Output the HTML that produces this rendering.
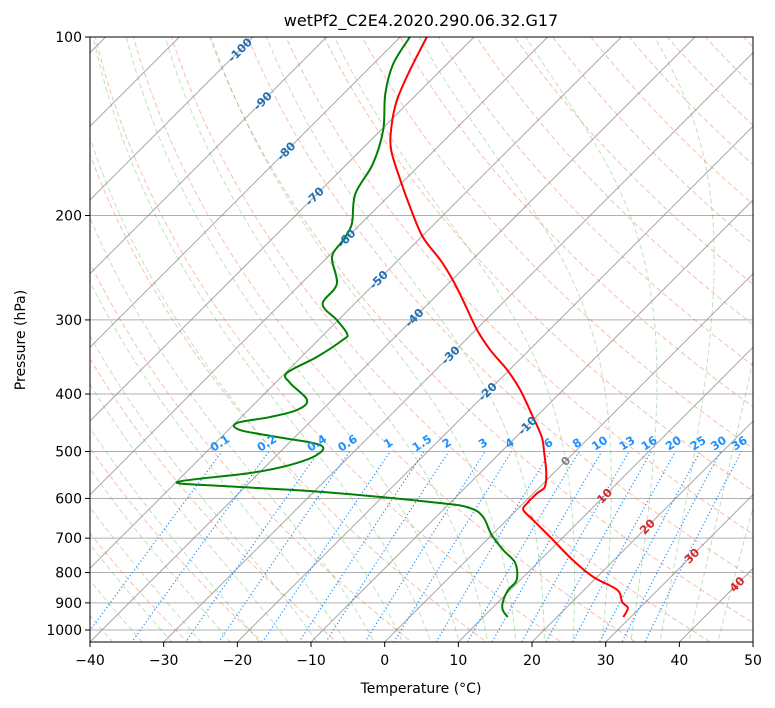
<!DOCTYPE html>
<html><head><meta charset="utf-8">
<style>
html,body{margin:0;padding:0;background:#fff;}
svg{display:block;font-family:"DejaVu Sans","Liberation Sans",sans-serif;}
</style></head>
<body>
<svg id="chart" width="775" height="708" viewBox="0 0 775 708" xmlns="http://www.w3.org/2000/svg">
<defs><clipPath id="plotclip"><rect x="90" y="37" width="663" height="605"/></clipPath></defs>
<rect x="0" y="0" width="775" height="708" fill="#fff"/>
<text x="421" y="26" text-anchor="middle" font-size="16" fill="#000">wetPf2_C2E4.2020.290.06.32.G17</text>
<g id="bg" clip-path="url(#plotclip)"></g>
<g id="series" clip-path="url(#plotclip)"></g>
<g id="labels"></g>
<rect x="90" y="37" width="663" height="605" fill="none" stroke="#000" stroke-width="1"/>
<g id="axes"></g>
<text x="421" y="693" text-anchor="middle" font-size="14">Temperature (°C)</text>
<text transform="translate(25,340) rotate(-90)" text-anchor="middle" font-size="14">Pressure (hPa)</text>
</svg>
<script>
// ---- data ----
const tempP = [100,113.7,127.7,141.8,155.1,174.2,193.5,217.4,237.7,256.9,277.7,312.0,337.2,364.3,393.8,437.4,472.7,502.9,543.6,574.1,587.5,610.7,627.5,652.5,696.9,762.1,814.0,855.9,896.8,918.3,950.8];
const tempT = [-76.4,-74.2,-71.9,-69.0,-65.9,-60.6,-55.6,-49.8,-44.3,-39.9,-35.8,-29.8,-25.3,-20.3,-15.8,-10.4,-6.5,-4.0,-1.0,0.7,0.5,0.5,0.9,3.6,8.2,14.4,19.5,24.5,26.8,28.4,29.0];
const dewP = [100,111.1,124.8,143.5,163.7,184.0,206.7,219.9,235.0,260.9,282.0,300.1,316.8,324.3,346.4,368.6,383.2,409.3,425.6,437.4,447.7,460.0,472.7,487.6,506.8,527.0,543.6,562.9,571.8,585.2,610.7,622.8,644.9,691.5,733.0,770.9,823.7,855.9,896.8,925.5,950.8];
const dewT = [-78.7,-77.3,-74.3,-69.7,-66.5,-64.8,-61.2,-60.2,-59.4,-55.1,-54.3,-50.2,-46.9,-46.7,-47.9,-49.8,-48.0,-43.4,-43.4,-46.1,-49.8,-48.4,-42.4,-35.5,-34.6,-36.9,-41.2,-49.9,-43.1,-28.7,-11.4,-6.6,-3.6,0.0,3.6,7.0,9.5,9.7,10.6,11.7,13.3];
const xTicks = [-40,-30,-20,-10,0,10,20,30,40,50];
const pTicks = [100,200,300,400,500,600,700,800,900,1000];
const mixRatios = [0.1,0.2,0.4,0.6,1,1.5,2,3,4,6,8,10,13,16,20,25,30,36];
const isoLabelVals = [-100,-90,-80,-70,-60,-50,-40,-30,-20,-10,0,10,20,30,40];
const isoLabelP = [105.2,128.2,155.8,185.7,218.6,256.6,297.5,344.0,396.5,452.3,519.0,594.2,669.5,749.9,837.5];

// ---- axis functions ----
const X0=90, Y0=37, YB=642, PXC=7.367, DEC=593;
function yP(p){return Y0+DEC*(Math.log10(p)-2);}
function xTP(T,p){return X0+PXC*(T+40)+(YB-yP(p));}
const NS="http://www.w3.org/2000/svg";
function mk(tag,attrs,parent){const e=document.createElementNS(NS,tag);for(const k in attrs)e.setAttribute(k,attrs[k]);parent.appendChild(e);return e;}
const bg=document.getElementById('bg'),series=document.getElementById('series'),labels=document.getElementById('labels'),axes=document.getElementById('axes');
function pathFrom(Ts,Ps){let d='';for(let i=0;i<Ts.length;i++){d+=(i?'L':'M')+xTP(Ts[i],Ps[i]).toFixed(2)+','+yP(Ps[i]).toFixed(2);}return d;}
function smoothFrom(Ts,Ps){
  const pts=Ts.map((t,i)=>[xTP(t,Ps[i]),yP(Ps[i])]);
  let d='M'+pts[0][0].toFixed(2)+','+pts[0][1].toFixed(2);
  for(let i=0;i<pts.length-1;i++){
    const p0=pts[Math.max(0,i-1)],p1=pts[i],p2=pts[i+1],p3=pts[Math.min(pts.length-1,i+2)];
    const c1=[p1[0]+(p2[0]-p0[0])/6,p1[1]+(p2[1]-p0[1])/6];
    const c2=[p2[0]-(p3[0]-p1[0])/6,p2[1]-(p3[1]-p1[1])/6];
    d+='C'+c1[0].toFixed(2)+','+c1[1].toFixed(2)+' '+c2[0].toFixed(2)+','+c2[1].toFixed(2)+' '+p2[0].toFixed(2)+','+p2[1].toFixed(2);
  }
  return d;
}
const pres=[];for(let lp=Math.log10(1100);lp>=1.95;lp-=0.01)pres.push(Math.pow(10,lp));

// pressure grid
pTicks.forEach(p=>{
  const l=mk('line',{x1:90,x2:753,y1:yP(p),y2:yP(p),stroke:'#b0b0b0','stroke-width':1},bg);
  
  
});
// dry adiabats
for(let th=-30;th<=240;th+=10){
  const K=th+273.15;const Ts=pres.map(p=>K*Math.pow(p/1000,0.286)-273.15);
  const e=mk('path',{d:pathFrom(Ts,pres),fill:'none',stroke:'#f08060','stroke-opacity':0.5,'stroke-width':1,'stroke-dasharray':'5,3'},bg);
  
  
}
// moist adiabats
function es(T){return 6.112*Math.exp(17.67*T/(T+243.5));}
function dTdp(Tk,pp){const rs=0.622*es(Tk-273.15)/(pp-es(Tk-273.15));const Rd=287,Lv=2.5e6,cp=1005;return (Rd*Tk+Lv*rs)/(pp*(cp+Lv*Lv*rs*0.622/(Rd*Tk*Tk)));}
for(let T0=-40;T0<=44;T0+=4){
  const Ps=[],Ts=[];
  let pp=1000,tk=T0+273.15;while(pp<1100){tk+=dTdp(tk,pp)*5;pp+=5;}
  Ts.push(tk-273.15);Ps.push(pp);
  while(pp>100){tk-=dTdp(tk,pp)*5;pp-=5;Ts.push(tk-273.15);Ps.push(pp);}
  const e=mk('path',{d:pathFrom(Ts,Ps),fill:'none',stroke:'#2ca02c','stroke-opacity':0.3,'stroke-width':1,'stroke-dasharray':'5,3'},bg);
  
  
}
// isotherms
for(let T=-140;T<=50;T+=10){
  const e=mk('line',{x1:xTP(T,1100),y1:yP(1100),x2:xTP(T,90),y2:yP(90),stroke:'#888','stroke-opacity':0.75,'stroke-width':1},bg);
  
  
}
// mixing ratio lines
const mrP=[];for(let p=1100;p>=500;p-=10)mrP.push(p);
function tdFromE(e){const l=Math.log(e/6.112);return 243.5*l/(17.67-l);}
mixRatios.forEach(w=>{
  const Ts=mrP.map(p=>tdFromE(w*p/(622+w)));
  const e=mk('path',{d:pathFrom(Ts,mrP),fill:'none',stroke:'#1e90ff','stroke-width':1.2,'stroke-dasharray':'1.2,2.4'},bg);
  
  
  const t5=tdFromE(w*500/(622+w));const lx=xTP(t5,500),ly=yP(500)-5;
  const tx=mk('text',{x:lx,y:ly,'font-size':11.5,'font-weight':'bold',fill:'#1e90ff','text-anchor':'middle',transform:`rotate(-33 ${lx} ${ly})`},labels);
  tx.textContent=String(w);
  
  
});
// isotherm labels
isoLabelVals.forEach((v,i)=>{
  const pp=isoLabelP[i];
  const x=xTP(v,pp),y=yP(pp);
  const col=v<0?'#1f6fb4':(v===0?'#808080':'#d62728');
  const tx=mk('text',{x:x,y:y+4,'font-size':11.5,'font-weight':'bold',fill:col,'text-anchor':'middle',transform:`rotate(-45 ${x} ${y})`},labels);
  tx.textContent=String(v);
  
  
});
// series
const tl=mk('path',{d:smoothFrom(tempT,tempP),fill:'none',stroke:'#ff0000','stroke-width':2,'stroke-linejoin':'round'},series);


const dl=mk('path',{d:smoothFrom(dewT,dewP),fill:'none',stroke:'#008000','stroke-width':2,'stroke-linejoin':'round'},series);


// axes ticks
xTicks.forEach(T=>{
  const x=X0+PXC*(T+40);
  const tk=mk('line',{x1:x,x2:x,y1:642,y2:647,stroke:'#000'},axes);
  
  
  const t=mk('text',{x:x,y:665,'font-size':14,'text-anchor':'middle'},axes);
  t.textContent=(T<0?'\u2212':'')+Math.abs(T);
  
  
});
pTicks.forEach(p=>{
  const y=yP(p);
  const tk=mk('line',{x1:85,x2:90,y1:y,y2:y,stroke:'#000'},axes);
  
  
  const t=mk('text',{x:82,y:y+5,'font-size':14,'text-anchor':'end'},axes);
  t.textContent=String(p);
  
  
});
</script>
</body></html>
